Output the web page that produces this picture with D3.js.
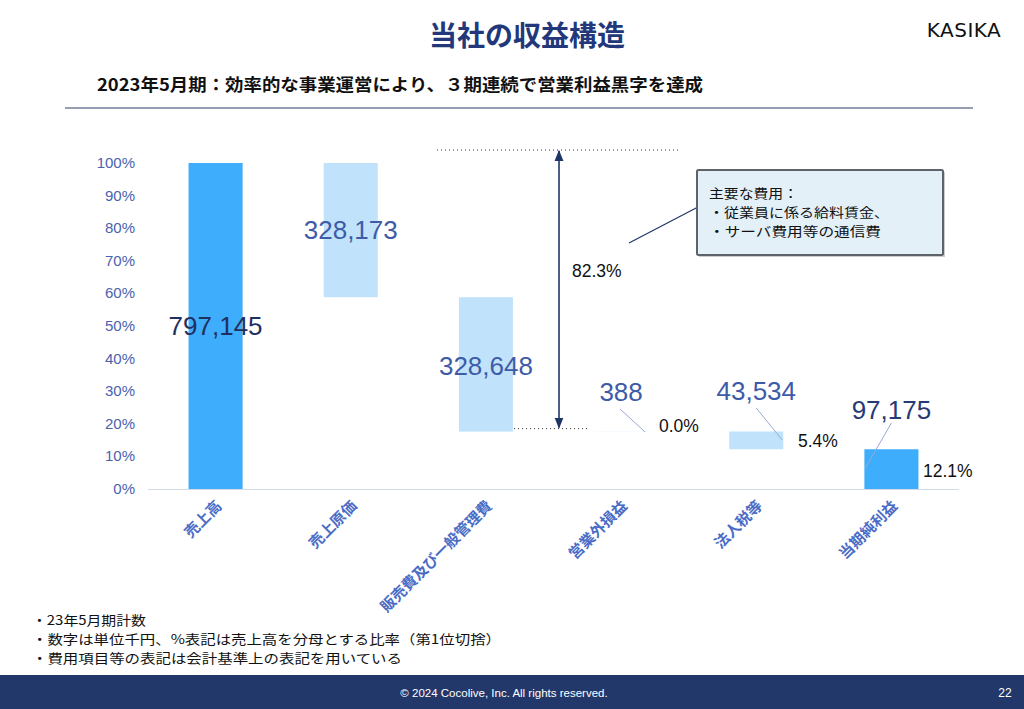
<!DOCTYPE html>
<html><head><meta charset="utf-8">
<script src="https://cdn.jsdelivr.net/npm/d3@7"></script>
<style>
html,body{margin:0;padding:0;background:#fff;}
svg{display:block;}
</style></head>
<body>
<svg id="c" width="1024" height="709"></svg>
<script>
// ---------- data ----------
const categories = ["売上高", "売上原価", "販売費及び一般管理費", "営業外損益", "法人税等", "当期純利益"];
const values = [797145, 328173, 328648, 388, 43534, 97175];
const kinds = ["total", "down", "down", "up", "down", "total"];
const valueLabels = ["797,145", "328,173", "328,648", "388", "43,534", "97,175"];
const pctLabels = ["", "", "", "0.0%", "5.4%", "12.1%"];
const spanLabel = "82.3%";
const yTicks = [0, 0.1, 0.2, 0.3, 0.4, 0.5, 0.6, 0.7, 0.8, 0.9, 1.0];
const noteLines = ["・23年5月期計数", "・数字は単位千円、%表記は売上高を分母とする比率（第1位切捨）", "・費用項目等の表記は会計基準上の表記を用いている"];
const boxLines = ["主要な費用：", "・従業員に係る給料賃金、", "・サーバ費用等の通信費"];

// ---------- layout ----------
const JP = "'Noto Sans CJK JP','Noto Sans',sans-serif";
const LAT = "'Liberation Sans',Arial,'Noto Sans CJK JP',sans-serif";
const svg = d3.select("#c");
const navy = "#1f3566";

// title
svg.append("text").attr("x", 527).attr("y", 46).attr("text-anchor", "middle")
  .style("font-family", JP).style("font-weight", 700).style("font-size", "28px").attr("fill", "#22387a")
  .text("当社の収益構造");
// logo
svg.append("text").attr("x", 964).attr("y", 37).attr("text-anchor", "middle")
  .style("font-family", "'DejaVu Sans','Liberation Sans',sans-serif").style("font-weight", 400)
  .style("font-size", "20px").style("letter-spacing", "0.5px").attr("fill", "#111")
  .text("KASIKA");
// subtitle
svg.append("text").attr("x", 97).attr("y", 91)
  .attr("textLength", 606).attr("lengthAdjust", "spacingAndGlyphs")
  .style("font-family", JP).style("font-weight", 700).style("font-size", "17px").attr("fill", "#111")
  .text("2023年5月期：効率的な事業運営により、３期連続で営業利益黒字を達成");
svg.append("line").attr("x1", 65).attr("x2", 973).attr("y1", 108).attr("y2", 108)
  .attr("stroke", "#2b3d66").attr("stroke-width", 1);

// scales
const x = d3.scaleBand().domain(categories).range([148, 959]).padding(0);
const y = d3.scaleLinear().domain([0, 1]).range([489, 163]);
const sales = values[0];
const barW = x.bandwidth() * 0.4;

// waterfall segments
let run = 0;
const segs = values.map((v, i) => {
  let a, b;
  if (kinds[i] === "total") { a = 0; b = v; run = v; }
  else if (kinds[i] === "down") { a = run - v; b = run; run = run - v; }
  else { a = run; b = run + v; run = run + v; }
  return { cat: categories[i], lo: a / sales, hi: b / sales, kind: kinds[i], i };
});

// y axis labels
svg.append("g").selectAll("text").data(yTicks).join("text")
  .attr("x", 135).attr("y", d => y(d) + 5).attr("text-anchor", "end")
  .style("font-family", LAT).style("font-size", "15px").attr("fill", "#4a62ad")
  .text(d => Math.round(d * 100) + "%");

// baseline
svg.append("line").attr("x1", 148).attr("x2", 959).attr("y1", y(0) + 0.5).attr("y2", y(0) + 0.5)
  .attr("stroke", "#d3dbea").attr("stroke-width", 1);

// bars
svg.append("g").selectAll("rect").data(segs).join("rect")
  .attr("x", d => x(d.cat) + (x.bandwidth() - barW) / 2)
  .attr("width", barW)
  .attr("y", d => y(d.hi))
  .attr("height", d => y(d.lo) - y(d.hi))
  .attr("fill", d => d.kind === "total" ? "#3eadfb" : "#c0e3fb");

// x labels
svg.append("g").selectAll("text").data(categories).join("text")
  .attr("transform", d => `translate(${x(d) + x.bandwidth() / 2 + 7},${507}) rotate(-45)`)
  .attr("text-anchor", "end")
  .style("font-family", JP).style("font-weight", 700).style("font-size", "15px").attr("fill", "#4a6cc6")
  .text(d => d);

// value labels
const cx = d => x(d.cat) + x.bandwidth() / 2;
const valueLabelY = [335, 239, 375, 401, 400, 419];
const valueColors = ["#1f2f5e", "#3d5ba8", "#3d5ba8", "#3d5ba8", "#3d5ba8", "#263a74"];
svg.append("g").selectAll("text").data(segs).join("text")
  .attr("x", d => cx(d)).attr("y", (d, i) => valueLabelY[i])
  .attr("text-anchor", "middle")
  .style("font-family", LAT).style("font-size", "26px").attr("fill", (d, i) => valueColors[i])
  .text((d, i) => valueLabels[i]);

// leader lines for small items
const leaders = [[3, -1, 409, 25, 432], [4, 0, 408, 26, 440], [5, 0, 423, -26, 468]];
leaders.forEach(([i, dx1, y1, dx2, y2]) => {
  const c = cx(segs[i]);
  svg.append("line").attr("x1", c + dx1).attr("y1", y1).attr("x2", c + dx1 + dx2).attr("y2", y2)
    .attr("stroke", "#9aa9d6").attr("stroke-width", 1);
});

// percent labels
const pctPos = [[659, 432], [798, 447], [923, 477]];
[3, 4, 5].forEach((i, k) => {
  svg.append("text").attr("x", pctPos[k][0]).attr("y", pctPos[k][1])
    .style("font-family", LAT).style("font-size", "17.5px").attr("fill", "#111").text(pctLabels[i]);
});

// dotted guides & arrow
const opLo = segs[2].lo;
const topY = 150, botY = y(opLo) - 3;
svg.append("line").attr("x1", 437).attr("x2", 680).attr("y1", topY).attr("y2", topY)
  .attr("stroke", "#333").attr("stroke-width", 1).attr("stroke-dasharray", "1,3");
svg.append("line").attr("x1", 514).attr("x2", 588).attr("y1", botY).attr("y2", botY)
  .attr("stroke", "#333").attr("stroke-width", 1).attr("stroke-dasharray", "1,3");
const defs = svg.append("defs");
defs.append("marker").attr("id", "ah").attr("viewBox", "0 0 10 10").attr("refX", 9).attr("refY", 5)
  .attr("markerWidth", 7).attr("markerHeight", 7).attr("orient", "auto-start-reverse")
  .append("path").attr("d", "M0,1 L10,5 L0,9 z").attr("fill", navy);
svg.append("line").attr("x1", 559).attr("x2", 559).attr("y1", topY + 1).attr("y2", botY - 1)
  .attr("stroke", navy).attr("stroke-width", 1.6)
  .attr("marker-start", "url(#ah)").attr("marker-end", "url(#ah)");
svg.append("text").attr("x", 572).attr("y", 277)
  .style("font-family", LAT).style("font-size", "17.5px").attr("fill", "#111").text(spanLabel);

// callout box
svg.append("line").attr("x1", 629).attr("y1", 243).attr("x2", 698).attr("y2", 207)
  .attr("stroke", navy).attr("stroke-width", 1.2);
svg.append("rect").attr("x", 699).attr("y", 172).attr("width", 246).attr("height", 85)
  .attr("fill", "#9a9a9a").attr("opacity", 0.5);
svg.append("rect").attr("x", 697).attr("y", 170).attr("width", 246).attr("height", 85)
  .attr("fill", "#e3f0f8").attr("stroke", "#5d6369").attr("stroke-width", 2).attr("rx", 1.5);
const boxWidths = [89, 180, 172];
svg.append("g").selectAll("text").data(boxLines).join("text")
  .attr("x", 709).attr("y", (d, i) => 198 + i * 19)
  .attr("textLength", (d, i) => boxWidths[i]).attr("lengthAdjust", "spacingAndGlyphs")
  .style("font-family", JP).style("font-size", "13px").attr("fill", "#111").text(d => d);

// notes
const noteWidths = [114, 469, 370];
svg.append("g").selectAll("text").data(noteLines).join("text")
  .attr("x", 32).attr("y", (d, i) => 625 + i * 19)
  .attr("textLength", (d, i) => noteWidths[i]).attr("lengthAdjust", "spacingAndGlyphs")
  .style("font-family", JP).style("font-size", "13px").attr("fill", "#111").text(d => d);

// footer
svg.append("rect").attr("x", 0).attr("y", 675).attr("width", 1024).attr("height", 34).attr("fill", "#22376a");
svg.append("text").attr("x", 504).attr("y", 697).attr("text-anchor", "middle")
  .style("font-family", LAT).style("font-size", "11.5px").attr("fill", "#fff")
  .text("© 2024 Cocolive, Inc. All rights reserved.");
svg.append("text").attr("x", 1005).attr("y", 697).attr("text-anchor", "middle")
  .style("font-family", LAT).style("font-size", "12px").attr("fill", "#fff").text("22");
</script>
</body></html>
